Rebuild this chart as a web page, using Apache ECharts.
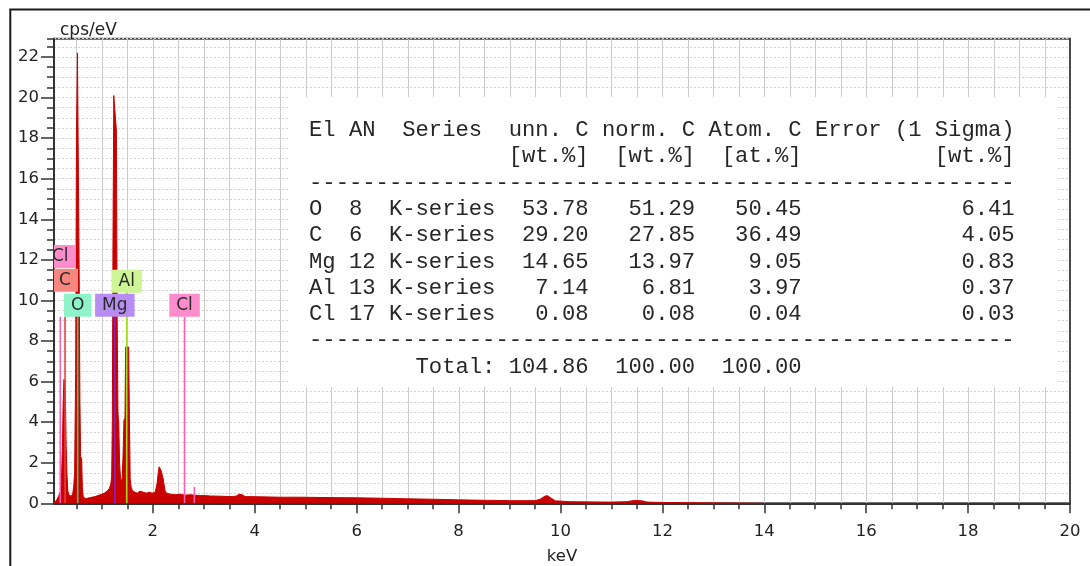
<!DOCTYPE html>
<html>
<head>
<meta charset="utf-8">
<script src="https://cdn.jsdelivr.net/npm/echarts@6/dist/echarts.min.js"></script>
<style>
  html, body { margin: 0; padding: 0; background: #ffffff; }
  #chart { width: 1090px; height: 566px; }
</style>
</head>
<body>
<div id="chart"></div>
<script>
// EDS spectrum: photon energy (keV) and intensity (cps/eV)
const energy = [
  0.06, 0.09, 0.12, 0.15, 0.17, 0.19, 0.21, 0.226, 0.239, 0.255,
  0.271, 0.285, 0.298, 0.314, 0.332, 0.357, 0.397, 0.426, 0.446, 0.465,
  0.485, 0.501, 0.520, 0.540, 0.554, 0.569, 0.583, 0.603, 0.616, 0.632,
  0.671, 0.770, 0.868, 0.966, 1.045, 1.103, 1.143, 1.172, 1.192, 1.205,
  1.217, 1.233, 1.264, 1.284, 1.300, 1.315, 1.331, 1.347, 1.364, 1.378,
  1.398, 1.417, 1.433, 1.453, 1.466, 1.496, 1.525, 1.541, 1.555, 1.574,
  1.604, 1.633, 1.692, 1.751, 1.810, 1.869, 1.928, 1.987, 2.046, 2.065,
  2.085, 2.105, 2.124, 2.144, 2.164, 2.183, 2.203, 2.222, 2.242, 2.271,
  2.340, 2.438, 2.536, 2.634, 2.733, 2.831, 2.929, 3.027, 3.125, 3.318,
  3.514, 3.632, 3.694, 3.753, 3.812, 4.107, 4.500, 4.891, 5.5, 6.0,
  6.5, 7.0, 7.5, 8.0, 8.5, 9.0, 9.5, 9.6, 9.7, 9.75,
  9.8, 9.9, 10.2, 10.6, 11.0, 11.3, 11.45, 11.6, 11.7, 12.0,
  12.5, 13.0, 13.5, 14.0
];
const counts = [
  0.00, 0.10, 0.20, 0.35, 0.30, 0.60, 1.50, 2.80, 4.80, 6.10,
  6.00, 5.00, 2.90, 1.40, 0.60, 0.40, 0.35, 0.45, 0.80, 1.50,
  6.40, 18.10, 22.20, 22.20, 11.30, 5.00, 2.30, 2.20, 0.80, 0.35,
  0.22, 0.28, 0.33, 0.42, 0.50, 0.60, 0.72, 0.90, 1.30, 4.00,
  12.50, 20.10, 20.10, 18.40, 9.00, 4.50, 3.90, 2.00, 1.30, 1.10,
  1.20, 2.50, 4.10, 4.20, 7.70, 7.70, 7.70, 4.00, 1.20, 0.80,
  0.60, 0.55, 0.50, 0.60, 0.55, 0.50, 0.55, 0.50, 0.55, 0.60,
  1.00, 1.50, 1.80, 1.75, 1.60, 1.40, 1.20, 0.90, 0.60, 0.50,
  0.45, 0.42, 0.45, 0.40, 0.42, 0.40, 0.38, 0.38, 0.36, 0.35,
  0.33, 0.35, 0.45, 0.42, 0.33, 0.32, 0.30, 0.30, 0.28, 0.27,
  0.25, 0.22, 0.20, 0.17, 0.15, 0.13, 0.13, 0.20, 0.36, 0.37,
  0.28, 0.12, 0.08, 0.07, 0.06, 0.08, 0.14, 0.12, 0.06, 0.04,
  0.03, 0.02, 0.01, 0.00
];

// Identified element lines: energy (keV) and marker height (cps/eV)
const markerElement = ['Cl', 'C', 'O', 'Mg', 'Al', 'Cl', 'Cl'];
const markerEnergy  = [0.183, 0.277, 0.525, 1.254, 1.487, 2.622, 2.815];
const markerHeight  = [9.2, 9.2, 9.2, 9.2, 10.4, 9.2, 0.82];

// Quantification results
const quantElement = ['O', 'C', 'Mg', 'Al', 'Cl'];
const quantAN      = [8, 6, 12, 13, 17];
const quantSeries  = ['K-series', 'K-series', 'K-series', 'K-series', 'K-series'];
const unnC         = [53.78, 29.20, 14.65, 7.14, 0.08];
const normC        = [51.29, 27.85, 13.97, 6.81, 0.08];
const atomC        = [50.45, 36.49, 9.05, 3.97, 0.04];
const errC         = [6.41, 4.05, 0.83, 0.37, 0.03];
const totalC       = [104.86, 100.00, 100.00];

// Axis ticks
const xMajorTicks = [2, 4, 6, 8, 10, 12, 14, 16, 18, 20];
const xMinorTicks = [0.5, 1, 1.5, 2, 2.5, 3, 3.5, 4, 4.5, 5, 5.5, 6, 6.5, 7, 7.5, 8,
  8.5, 9, 9.5, 10, 10.5, 11, 11.5, 12, 12.5, 13, 13.5, 14, 14.5, 15, 15.5, 16,
  16.5, 17, 17.5, 18, 18.5, 19, 19.5, 20];
const yMajorTicks = [0, 2, 4, 6, 8, 10, 12, 14, 16, 18, 20, 22];

// Marker colours and label box heights (box centre, in cps/eV)
const markerStyle = {
  Cl: { line: '#ff5fb2', box: '#ff8dcc' },
  C:  { line: '#e8403c', box: '#f6877f' },
  O:  { line: '#46c46a', box: '#8ef3c8' },
  Mg: { line: '#8a22b8', box: '#b78df2' },
  Al: { line: '#a6dc18', box: '#cdf596' }
};
const labelLevel = [12.16, 10.99, 9.76, 9.76, 10.95, 9.76, null];

const FONT = '"DejaVu Sans", Verdana, sans-serif';
const AXIS_COLOR = '#333333';
const Y_MAX = 22.9;

// Build the fixed-width result table
function padR(s, n) { s = String(s); while (s.length < n) s += ' '; return s; }
function padL(s, n) { s = String(s); while (s.length < n) s = ' ' + s; return s; }
const dashes = '-'.repeat(53);
const tableLines = [
  'El AN  Series  unn. C norm. C Atom. C Error (1 Sigma)',
  padR('', 15) + '[wt.%]  [wt.%]  [at.%]' + padR('', 10) + '[wt.%]',
  dashes
];
quantElement.forEach(function (el, i) {
  tableLines.push(
    padR(el, 3) + padR(quantAN[i], 3) + quantSeries[i] +
    padL(unnC[i].toFixed(2), 7) + padL(normC[i].toFixed(2), 8) +
    padL(atomC[i].toFixed(2), 8) + padL(errC[i].toFixed(2), 16)
  );
});
tableLines.push(dashes);
tableLines.push(
  padR('', 8) + 'Total:' + padL(totalC[0].toFixed(2), 7) +
  padL(totalC[1].toFixed(2), 8) + padL(totalC[2].toFixed(2), 8)
);

const chart = echarts.init(document.getElementById('chart'), null, { renderer: 'canvas' });

const tickLine = { color: AXIS_COLOR, width: 1.5 };

chart.setOption({
  animation: false,
  backgroundColor: '#ffffff',
  textStyle: { fontFamily: FONT },
  grid: {
    left: 54, right: 20, top: 38.7, bottom: 62.7,
    show: true, borderColor: '#4a4a4a', borderWidth: 2,
    backgroundColor: 'transparent',
    containLabel: false, outerBoundsMode: 'none'
  },
  xAxis: [
    {
      type: 'value', min: 0.06, max: 20, position: 'bottom',
      axisLine: { show: true, lineStyle: { color: AXIS_COLOR, width: 2 } },
      axisTick: { show: true, customValues: xMinorTicks, length: 6, lineStyle: tickLine },
      axisLabel: { show: false },
      splitLine: { show: false }
    },
    {
      type: 'value', min: 0.06, max: 20, position: 'bottom', offset: 0,
      axisLine: { show: false },
      axisTick: { show: true, customValues: xMajorTicks, length: 10, lineStyle: tickLine },
      axisLabel: {
        customValues: xMajorTicks, margin: 20, fontSize: 16.5,
        color: '#222222', fontFamily: FONT
      },
      splitLine: { show: false },
      name: 'keV', nameLocation: 'middle', nameGap: 45,
      nameTextStyle: { fontSize: 16.5, color: '#222222', fontFamily: FONT }
    }
  ],
  yAxis: [
    {
      type: 'value', min: 0, max: Y_MAX, interval: 0.5, position: 'left',
      axisLine: { show: true, lineStyle: { color: AXIS_COLOR, width: 2 } },
      axisTick: { show: true, length: 7, lineStyle: tickLine },
      axisLabel: { show: false },
      splitLine: { show: true, lineStyle: { color: '#d2d2d2', width: 1, type: [2, 2] } }
    },
    {
      type: 'value', min: 0, max: Y_MAX, position: 'left', offset: 0,
      axisLine: { show: false },
      axisTick: { show: true, customValues: yMajorTicks, length: 13, lineStyle: tickLine },
      axisLabel: {
        customValues: yMajorTicks, margin: 15, fontSize: 16.5,
        color: '#222222', fontFamily: FONT
      },
      splitLine: { show: false },
      name: 'cps/eV', nameLocation: 'end', nameGap: 0,
      nameTextStyle: {
        fontSize: 17, color: '#222222', fontFamily: FONT,
        align: 'left', padding: [0, 0, 0, 6]
      }
    }
  ],
  series: [
    {
      // vertical grid lines at every x tick
      name: 'energy grid',
      type: 'custom',
      xAxisIndex: 0, yAxisIndex: 0,
      clip: true, silent: true,
      z: 1,
      data: xMinorTicks.map(function (t) { return [t]; }),
      renderItem: function (params, api) {
        const a = api.coord([api.value(0), 0]);
        const b = api.coord([api.value(0), Y_MAX]);
        return {
          type: 'line',
          shape: { x1: Math.round(a[0]) + 0.5, y1: a[1], x2: Math.round(b[0]) + 0.5, y2: b[1] },
          style: { stroke: '#cccccc', lineWidth: 1 }
        };
      }
    },
    {
      name: 'spectrum',
      type: 'line',
      xAxisIndex: 0, yAxisIndex: 0,
      data: energy.map(function (e, i) { return [e, counts[i]]; }),
      symbol: 'none', showSymbol: false,
      lineStyle: { color: '#c80000', width: 1 },
      areaStyle: { color: '#c80000', opacity: 1 },
      z: 2
    },
    {
      name: 'element lines',
      type: 'custom',
      xAxisIndex: 0, yAxisIndex: 0,
      clip: true,
      z: 4,
      data: markerEnergy.map(function (e, i) { return [e, markerHeight[i], i]; }),
      renderItem: function (params, api) {
        const i = api.value(2);
        const e = api.value(0);
        const el = markerElement[i];
        const st = markerStyle[el];
        const p0 = api.coord([e, 0]);
        const p1 = api.coord([e, api.value(1)]);
        const children = [{
          type: 'line', z2: 1,
          shape: { x1: p0[0], y1: p0[1], x2: p1[0], y2: p1[1] },
          style: { stroke: st.line, lineWidth: 1.6 }
        }];
        if (labelLevel[i] != null) {
          const c = api.coord([e, labelLevel[i]]);
          children.push({
            type: 'text', z2: 20, x: c[0], y: c[1],
            style: {
              text: el, fill: '#2a2a2a', font: '17px ' + FONT,
              align: 'center', verticalAlign: 'middle',
              backgroundColor: st.box, padding: [3, 7, 3, 7]
            }
          });
        }
        return { type: 'group', children: children };
      }
    }
  ],
  graphic: [
    {
      type: 'rect', z: 1, silent: true,
      shape: { x: 10.3, y: 9.5, width: 1200, height: 700 },
      style: { fill: 'none', stroke: '#1a1a1a', lineWidth: 2 }
    },
    {
      type: 'rect', z: 50, left: 290, top: 97, silent: true,
      shape: { width: 768, height: 290 },
      style: { fill: '#ffffff' }
    },
    {
      type: 'text', z: 51, left: 309, top: 117, silent: true,
      style: {
        text: tableLines.join('\n'),
        font: '22.2px "Liberation Mono", "Courier New", monospace',
        lineHeight: 26.3,
        fill: '#262626'
      }
    }
  ]
});
</script>
</body>
</html>
